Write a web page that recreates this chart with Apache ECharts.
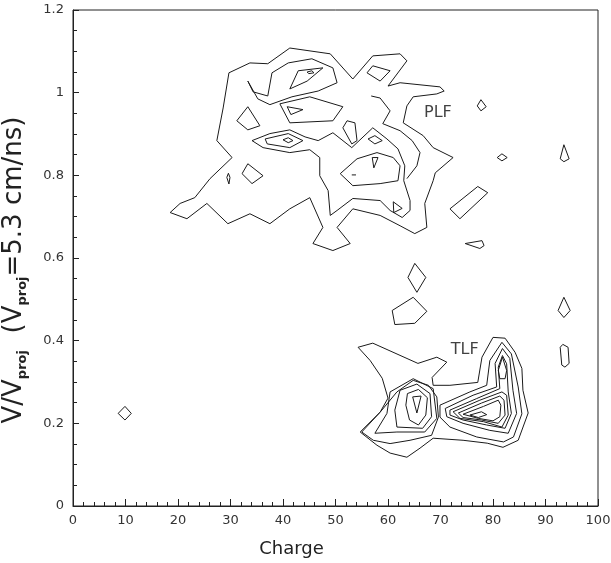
<!DOCTYPE html>
<html>
<head>
<meta charset="utf-8">
<script src="https://cdn.jsdelivr.net/npm/echarts@6/dist/echarts.min.js"></script>
<style>
html, body { margin: 0; padding: 0; background: #fff; }
#chart { width: 611px; height: 563px; }
</style>
</head>
<body>
<div id="chart"></div>
<script>
// Contour lines: [charge, V/Vproj]

// PLF region
var plfOuter = [[18.5,0.710],[20.4,0.732],[23.2,0.746],[26.1,0.792],[30.3,0.843],[27.4,0.884],[28.6,0.963],[29.7,1.048],[33.7,1.072],[37.1,1.070],[41.3,1.108],[49.0,1.094],[53.3,1.033],[57.1,1.089],[62.3,1.094],[63.6,1.077],[60.0,1.016],[62.3,1.024],[69.9,1.014],[70.7,1.004],[69.3,0.997],[64.8,0.990],[63.6,0.968],[62.9,0.927],[66.7,0.896],[68.6,0.867],[72.4,0.843],[69.0,0.806],[68.6,0.787],[67.0,0.732],[67.4,0.674],[65.1,0.659],[62.3,0.678],[58.5,0.703],[53.3,0.719],[50.3,0.674],[52.8,0.635],[49.5,0.618],[45.7,0.635],[47.6,0.674],[45.1,0.746],[41.3,0.719],[37.5,0.683],[33.7,0.707],[29.5,0.683],[25.5,0.732],[21.7,0.695]];
var plfBody = [[34.1,0.884],[37.5,0.901],[41.3,0.910],[44.2,0.893],[46.7,0.884],[49.5,0.903],[53.1,0.867],[57.1,0.915],[59.8,0.888],[61.9,0.864],[63.2,0.823],[63.0,0.787],[64.2,0.739],[64.2,0.715],[62.7,0.698],[60.4,0.715],[58.5,0.739],[53.3,0.744],[50.3,0.715],[49.0,0.703],[48.6,0.763],[47.0,0.799],[47.0,0.843],[45.1,0.862],[41.3,0.855],[36.2,0.867]];
var plfTop = [[33.3,1.028],[34.3,1.002],[37.1,0.992],[37.9,1.048],[41.0,1.072],[45.5,1.082],[49.5,1.060],[50.3,1.024],[46.7,1.004],[41.7,0.990],[37.5,0.971],[35.2,0.985]];
var plfTopTri = [[41.3,1.009],[42.9,1.053],[47.6,1.060],[44.6,1.028]];
var plfTopDot = [[44.6,1.050],[45.5,1.053],[45.9,1.048],[44.9,1.046]];
var plfUpper = [[39.4,0.973],[45.1,0.990],[51.4,0.966],[49.5,0.932],[41.3,0.927]];
var plfUpperIn = [[40.8,0.966],[43.8,0.959],[41.5,0.947]];
var plfMidIn = [[36.6,0.888],[41.0,0.901],[43.8,0.884],[41.3,0.867],[37.0,0.876]];
var plfMidCore = [[40.0,0.886],[41.0,0.891],[41.9,0.884],[41.0,0.879]];
var plfLeftDia = [[31.2,0.932],[33.3,0.966],[35.6,0.920],[33.3,0.910]];
var plfOval = [[51.4,0.915],[52.2,0.932],[53.7,0.927],[54.1,0.884],[53.1,0.876]];
var plfSmallDia = [[56.2,0.888],[57.5,0.896],[58.9,0.884],[57.5,0.876]];
var plfLower = [[50.9,0.804],[54.1,0.840],[57.9,0.855],[61.0,0.843],[62.3,0.823],[61.9,0.787],[58.5,0.780],[53.3,0.775]];
var plfSmallTri = [[57.0,0.843],[58.1,0.843],[57.3,0.818]];
var plfBottomTri = [[61.0,0.736],[62.7,0.720],[61.1,0.710]];
// open strokes
var plfDash = [[53.1,0.801],[53.9,0.801]];
var plfZig = [[56.8,0.992],[58.5,0.987],[60.4,0.956],[59.0,0.925],[62.3,0.908],[64.6,0.884],[66.1,0.855],[65.5,0.823],[63.6,0.792]];

// isolated islands
var isle10 = [[8.6,0.224],[9.9,0.241],[11.1,0.224],[9.9,0.208]];
var isle30 = [[29.3,0.795],[29.6,0.805],[29.9,0.795],[29.7,0.779]];
var isle34 = [[32.2,0.804],[33.3,0.828],[36.2,0.799],[34.1,0.780]];
var isle58 = [[56.0,1.048],[57.1,1.065],[60.4,1.053],[58.5,1.028]];
var isle78a = [[77.0,0.968],[77.7,0.983],[78.7,0.966],[77.7,0.956]];
var isle82 = [[80.8,0.843],[81.7,0.852],[82.7,0.843],[81.7,0.835]];
var isle94a = [[92.8,0.840],[93.5,0.874],[94.5,0.840],[93.5,0.833]];
var isle75 = [[71.8,0.719],[77.1,0.773],[79.0,0.758],[73.7,0.695]];
var isle77 = [[74.7,0.635],[77.9,0.642],[78.3,0.630],[77.5,0.623]];
var isle65a = [[63.8,0.553],[65.1,0.587],[67.2,0.553],[65.5,0.517]];
var isle65b = [[60.8,0.473],[64.8,0.505],[67.4,0.471],[65.1,0.442],[61.3,0.439]];
var isle94b = [[92.4,0.473],[93.5,0.505],[94.7,0.473],[93.5,0.456]];
var isle94c = [[92.8,0.384],[93.3,0.391],[94.3,0.384],[94.5,0.345],[93.7,0.336],[93.1,0.341]];

// TLF region
var tlfOuter = [[54.3,0.384],[57.1,0.394],[65.7,0.345],[69.3,0.360],[71.2,0.348],[68.4,0.311],[68.6,0.292],[71.8,0.292],[77.1,0.299],[77.9,0.360],[80.0,0.408],[82.3,0.406],[84.2,0.372],[85.5,0.333],[85.7,0.280],[86.7,0.225],[84.8,0.159],[81.9,0.142],[78.9,0.152],[74.3,0.159],[68.6,0.164],[66.1,0.140],[63.6,0.118],[60.4,0.128],[57.9,0.147],[54.7,0.179],[58.5,0.227],[60.0,0.261],[58.9,0.309],[56.6,0.352]];
var tlfLeft1 = [[55.0,0.179],[58.5,0.227],[61.7,0.276],[64.8,0.304],[67.7,0.292],[69.3,0.264],[69.6,0.215],[68.3,0.171],[64.2,0.159],[60.4,0.151],[57.2,0.159]];
var tlfLeft2 = [[60.4,0.276],[64.8,0.308],[68.6,0.284],[69.3,0.212],[67.0,0.179],[61.7,0.179],[57.5,0.176],[59.8,0.224]];
var tlfLeft3 = [[62.3,0.280],[65.5,0.295],[68.0,0.272],[68.3,0.216],[66.6,0.188],[61.7,0.191],[61.3,0.232]];
var tlfLeft4 = [[63.7,0.272],[65.8,0.282],[67.5,0.262],[67.2,0.220],[65.8,0.196],[64.1,0.208],[63.4,0.244]];
var tlfLeft5 = [[64.7,0.264],[66.3,0.266],[65.5,0.225]];
var tlfRight1 = [[69.9,0.244],[75.6,0.276],[78.8,0.292],[79.4,0.352],[81.7,0.396],[83.5,0.368],[84.8,0.288],[85.5,0.223],[83.9,0.167],[82.0,0.155],[76.9,0.167],[71.8,0.191],[69.9,0.215]];
var tlfRight2 = [[70.9,0.236],[76.2,0.268],[80.7,0.288],[80.4,0.345],[81.8,0.381],[83.2,0.357],[83.8,0.280],[84.5,0.224],[82.9,0.176],[79.4,0.183],[74.3,0.200],[71.2,0.216]];
var tlfRight3 = [[71.8,0.232],[76.9,0.260],[81.3,0.284],[81.0,0.336],[81.8,0.364],[82.6,0.344],[82.9,0.276],[83.5,0.224],[82.3,0.188],[78.8,0.196],[74.3,0.208],[71.8,0.220]];
var tlfRight4 = [[72.4,0.228],[77.5,0.256],[81.7,0.276],[82.6,0.268],[82.9,0.220],[81.7,0.191],[78.2,0.204],[73.7,0.212]];
var tlfRight5 = [[73.4,0.225],[77.8,0.249],[81.3,0.266],[82.1,0.256],[82.3,0.220],[81.0,0.200],[77.8,0.208],[74.3,0.214]];
var tlfRight6 = [[74.3,0.222],[78.2,0.241],[81.0,0.256],[81.5,0.244],[81.3,0.216],[80.0,0.206],[77.2,0.212]];
var tlfRight7 = [[75.6,0.220],[77.8,0.228],[78.8,0.221],[77.2,0.214]];
var tlfColumn = [[81.0,0.328],[81.8,0.360],[82.6,0.328],[82.3,0.308],[81.3,0.308]];

var regionLabels = [['PLF', 69.5, 0.950], ['TLF', 74.6, 0.378]];

var rings = [
    plfOuter, plfBody, plfTop, plfTopTri, plfTopDot, plfUpper, plfUpperIn, plfMidIn, plfMidCore,
    plfLeftDia, plfOval, plfSmallDia, plfLower, plfSmallTri, plfBottomTri,
    isle10, isle30, isle34, isle58, isle78a, isle82, isle94a, isle75, isle77, isle65a, isle65b, isle94b, isle94c,
    tlfOuter, tlfLeft1, tlfLeft2, tlfLeft3, tlfLeft4, tlfLeft5,
    tlfRight1, tlfRight2, tlfRight3, tlfRight4, tlfRight5, tlfRight6, tlfRight7, tlfColumn
];
var strokes = [plfDash, plfZig];

var FONT = 'DejaVu Sans';
var INK = '#1a1a1a';

function lineSeries(points) {
    return {
        type: 'line',
        data: points,
        showSymbol: false,
        symbol: 'none',
        silent: true,
        lineStyle: { color: INK, width: 1 }
    };
}

var series = rings.map(function(r) { return lineSeries(r.concat([r[0]])); })
    .concat(strokes.map(lineSeries));

series.push({
    type: 'scatter',
    symbolSize: 0,
    data: regionLabels.map(function(l) { return { name: l[0], value: [l[1], l[2]] }; }),
    label: {
        show: true,
        formatter: '{b}',
        position: 'inside',
        fontFamily: FONT,
        fontSize: 16,
        color: '#111'
    }
});

var chart = echarts.init(document.getElementById('chart'));

chart.setOption({
    animation: false,
    grid: {
        left: 73, right: 13, top: 10, bottom: 57,
        outerBoundsMode: 'none',
        containLabel: false,
        show: true, borderColor: '#222', borderWidth: 1
    },
    xAxis: {
        type: 'value',
        min: 0,
        max: 100,
        interval: 10,
        name: 'Charge',
        nameLocation: 'middle',
        nameGap: 34,
        nameTextStyle: { fontFamily: FONT, fontSize: 18, color: '#222', padding: [0, 88, 0, 0] },
        axisLine: { lineStyle: { color: '#222' } },
        axisTick: { inside: true, length: 7, lineStyle: { color: '#222' } },
        minorTick: { show: true, splitNumber: 5, length: 4, lineStyle: { color: '#222' } },
        axisLabel: { fontFamily: FONT, fontSize: 13, color: '#333', margin: 8 },
        splitLine: { show: false }
    },
    yAxis: {
        type: 'value',
        min: 0,
        max: 1.2,
        interval: 0.2,
        name: '{a|V/V}{s|proj}{a|  (V}{s|proj}{a|=5.3 cm/ns)}',
        nameLocation: 'middle',
        nameGap: 44,
        nameRotate: 90,
        nameTextStyle: {
            padding: [0, 24, 0, 0],
            rich: {
                a: { fontFamily: FONT, fontSize: 26, color: '#222', lineHeight: 30 },
                s: { fontFamily: FONT, fontSize: 13, fontWeight: 'bold', color: '#222', lineHeight: 14, verticalAlign: 'bottom' }
            }
        },
        axisLine: { lineStyle: { color: '#222' } },
        axisTick: { inside: true, length: 6, lineStyle: { color: '#222' } },
        minorTick: { show: true, splitNumber: 4, length: 4, lineStyle: { color: '#222' } },
        axisLabel: { fontFamily: FONT, fontSize: 13, color: '#333', margin: 9 },
        splitLine: { show: false }
    },
    series: series
});
</script>
</body>
</html>
